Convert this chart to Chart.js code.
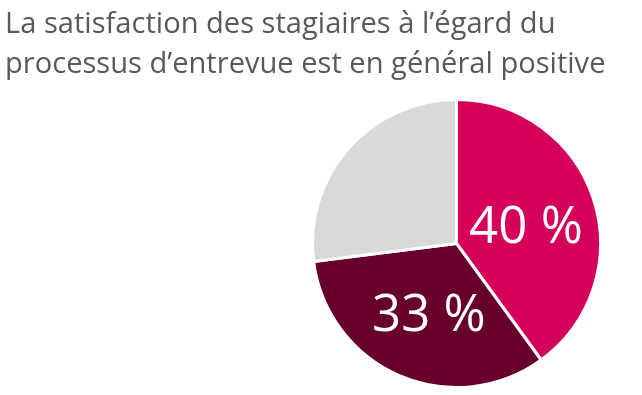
<!DOCTYPE html>
<html>
<head>
<meta charset="utf-8">
<script src="https://cdn.jsdelivr.net/npm/chart.js@4"></script>
<style>
  html, body { margin: 0; padding: 0; background: #fff; }
  #wrap { position: relative; width: 642px; height: 395px; }
  #title {
    position: absolute; left: 5px; top: 2px; margin: 0;
    font-family: "Open Sans", sans-serif; font-weight: 400;
    font-size: 29.1px; line-height: 40px; color: #595959;
    white-space: nowrap;
  }
  canvas { position: absolute; left: 0; top: 0; }
</style>
</head>
<body>
<div id="wrap">
  <canvas id="pie" width="642" height="395"></canvas>
  <h1 id="title">La satisfaction des stagiaires à l’égard du<br>processus d’entrevue est en général positive</h1>
</div>
<script>
document.addEventListener('DOMContentLoaded', () => {
    // --- data ---
    const categories = ['Satisfaits', 'Plutôt satisfaits', 'Autres'];
    const values = [40, 33, 27];
    const labelText = ['40 %', '33 %', ''];
    const colors = ['#D5005A', '#67002D', '#D9D9D9'];

    // percent labels inside the slices (no datalabels plugin offline)
    const sliceLabels = {
        id: 'sliceLabels',
        afterDatasetsDraw(chart) {
            const ctx = chart.ctx;
            const meta = chart.getDatasetMeta(0);
            ctx.save();
            ctx.fillStyle = '#ffffff';
            ctx.font = '51px "Open Sans", sans-serif';
            ctx.textAlign = 'center';
            ctx.textBaseline = 'middle';
            meta.data.forEach((arc, i) => {
                if (!labelText[i]) return;
                const p = arc.getProps(['startAngle', 'endAngle', 'outerRadius', 'x', 'y'], true);
                const mid = (p.startAngle + p.endAngle) / 2;
                const r = p.outerRadius * 0.5;
                ctx.fillText(labelText[i], p.x + Math.cos(mid) * r + 1, p.y + Math.sin(mid) * r + 7);
            });
            ctx.restore();
        }
    };

    new Chart(document.getElementById('pie').getContext('2d'), {
        type: 'pie',
        data: {
            labels: categories,
            datasets: [{
                data: values,
                backgroundColor: colors,
                borderColor: '#ffffff',
                borderWidth: 3
            }]
        },
        options: {
            responsive: false,
            animation: false,
            layout: { padding: { left: 311, right: 40, top: 98, bottom: 6 } },
            plugins: {
                legend: { display: false },
                tooltip: { enabled: false }
            }
        },
        plugins: [sliceLabels]
    });
});
</script>
</body>
</html>
